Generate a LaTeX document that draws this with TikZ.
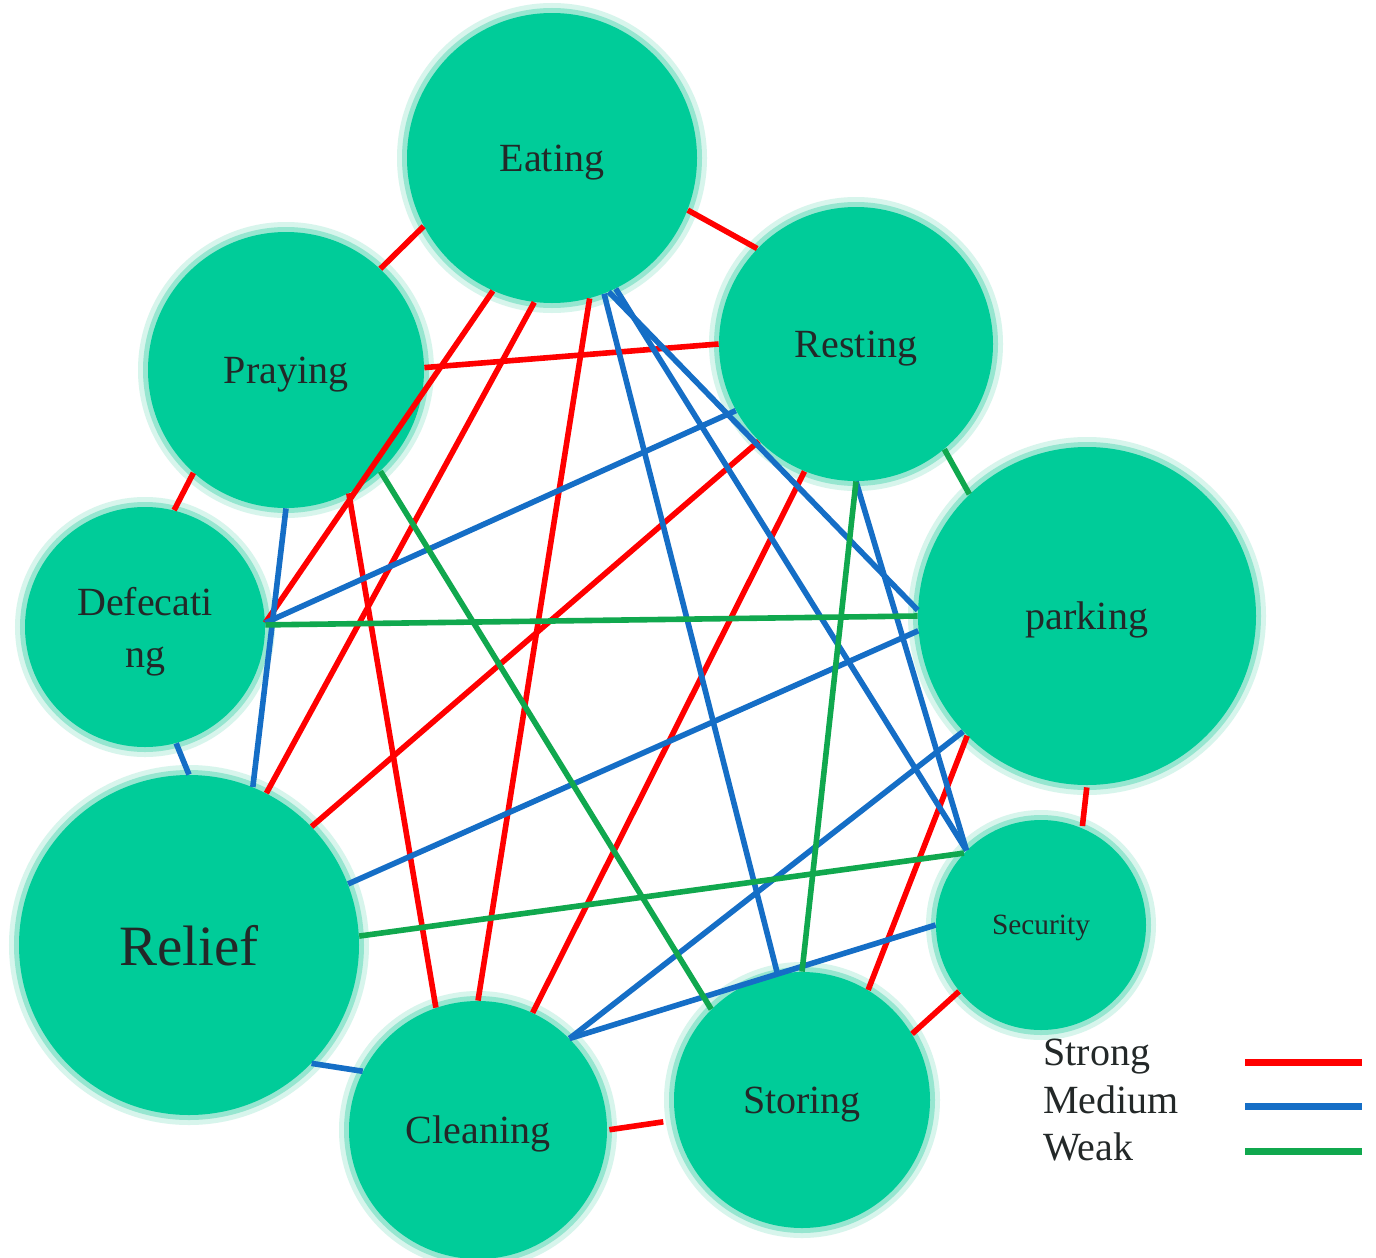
\documentclass[tikz,border=0pt]{standalone}
\usepackage{fontspec}
\setmainfont{Liberation Serif}
\definecolor{actfill}{RGB}{0,204,153}
\definecolor{glowin}{RGB}{150,230,208}
\definecolor{glowout}{RGB}{215,245,236}
\definecolor{strongc}{RGB}{255,0,0}
\definecolor{mediumc}{RGB}{21,110,198}
\definecolor{weakc}{RGB}{16,168,78}
\definecolor{txt}{RGB}{35,40,40}
\begin{document}
\begin{tikzpicture}[x=0.5pt,y=-0.5pt,
  every node/.style={font=\fontsize{20}{26}\selectfont,text=txt},
  act/.style={circle,fill=actfill,inner sep=0pt,align=center,text depth=0pt,
    preaction={draw=glowout,line width=10pt},
    preaction={draw=glowin,line width=5pt}},
  link/.style={line width=2.8pt},
  strongline/.style={link,draw=strongc},
  mediumline/.style={link,draw=mediumc},
  weakline/.style={link,draw=weakc}]
\useasboundingbox[fill=white] (0,0) rectangle (1376,1258);
% activities
\node[act,minimum size=145pt] (eat) at (552,158) {Eating};
\node[act,minimum size=137pt] (rest) at (856,344) {Resting};
\node[act,minimum size=138pt] (pray) at (286,370) {Praying};
\node[act,minimum size=169pt] (park) at (1087,616) {parking};
\node[act,minimum size=120pt] (defec) at (145,627) {Defecati\\ng};
\node[act,minimum size=170pt,font=\fontsize{28.5}{32}\selectfont] (relief) at (189,945) {Relief};
\node[act,minimum size=105pt,font=\fontsize{14.7}{17}\selectfont] (secur) at (1041,925) {Security};
\node[act,minimum size=128pt] (stor) at (802,1100) {Storing};
\node[act,minimum size=129pt] (clean) at (478,1130) {Cleaning};
% strong
\draw[strongline] (eat.339) -- (rest.136);
\draw[strongline] (eat.208) -- (pray.47);
\draw[strongline] (pray.228) -- (defec.76);
\draw[strongline,shorten <=1pt,shorten >=1pt] (park.270) -- (secur.67);
\draw[strongline] (secur.219) -- (stor.31);
\draw[strongline,shorten <=1pt,shorten >=6pt] (clean.0) -- (stor.189);
\draw[strongline] (pray.1) -- (rest.180);
\draw[strongline] (eat.246) -- (defec.2);
\draw[strongline] (eat.263) -- (relief.63);
\draw[strongline] (eat.285) -- (clean.90);
\draw[strongline] (pray.297) -- (clean.109);
\draw[strongline] (rest.225) -- (relief.44);
\draw[strongline] (rest.248) -- (clean.65);
\draw[strongline] (park.225) -- (stor.59);
% medium
\draw[mediumline] (defec.285) -- (relief.90);
\draw[mediumline] (relief.316) -- (clean.153);
\draw[mediumline] (pray.270) -- (relief.68);
\draw[mediumline] (defec.2) -- (rest.209);
\draw[mediumline] (eat.291) -- (stor.101);
\draw[mediumline] (eat.293) -- (park.178);
\draw[mediumline] (eat.296) -- (secur.135);
\draw[mediumline] (rest.270) -- (secur.135);
\draw[mediumline] (relief.21) -- (park.185);
\draw[mediumline] (park.223) -- (clean.45);
\draw[mediumline] (secur.180) -- (clean.45);
% weak
\draw[weakline] (rest.310) -- (park.134);
\draw[weakline] (defec.1) -- (park.180);
\draw[weakline] (pray.313) -- (stor.135);
\draw[weakline] (rest.270) -- (stor.90);
\draw[weakline] (relief.3) -- (secur.137);
% legend
\node[anchor=base west,inner sep=0pt] (lstrong) at (1043,1065) {Strong};
\node[anchor=base west,inner sep=0pt] (lmedium) at (1043,1113) {Medium};
\node[anchor=base west,inner sep=0pt] (lweak) at (1043,1160) {Weak};
\coordinate (ls1) at (1245,1062); \coordinate (ls2) at (1362,1062);
\coordinate (lm1) at (1245,1106); \coordinate (lm2) at (1362,1106);
\coordinate (lw1) at (1245,1151); \coordinate (lw2) at (1362,1151);
\draw[strongline,line width=3.5pt] (ls1) -- (ls2);
\draw[mediumline,line width=3.5pt] (lm1) -- (lm2);
\draw[weakline,line width=3.5pt] (lw1) -- (lw2);
\end{tikzpicture}
\end{document}
